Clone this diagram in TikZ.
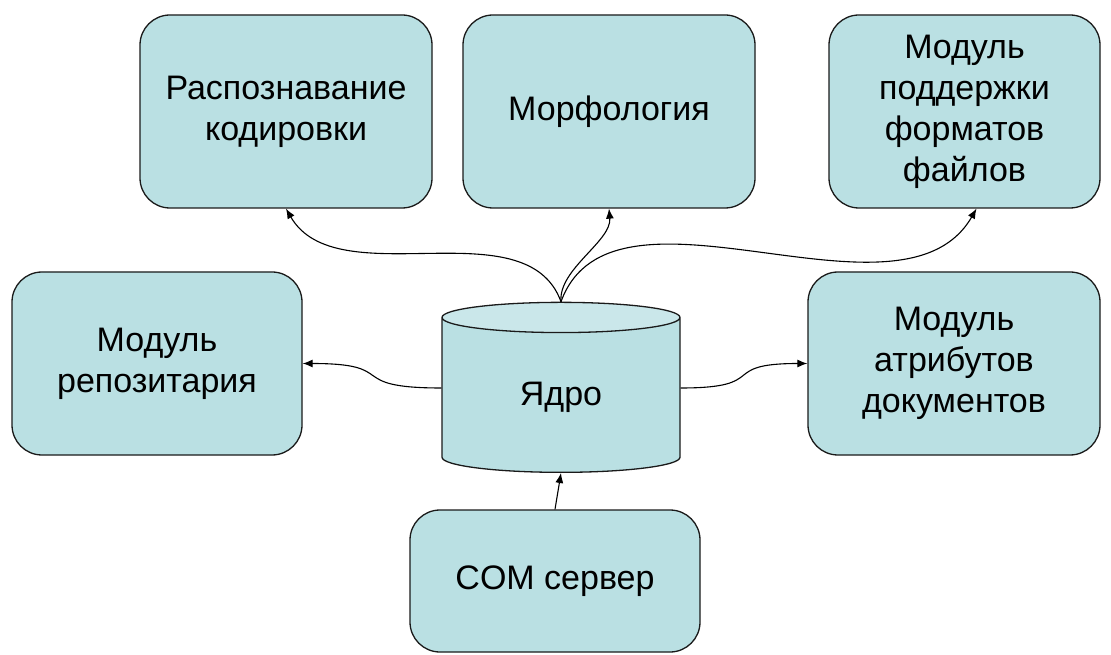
\documentclass[tikz,border=0pt]{standalone}
\usepackage{fontspec}
\setmainfont{Liberation Sans}
\usepackage{xcolor}
\usepackage{tikz}
\usetikzlibrary{shapes.geometric,arrows.meta}
\definecolor{boxfill}{HTML}{BAE0E3}
\definecolor{topfill}{HTML}{CAE7EA}
\definecolor{edgecol}{HTML}{1A1A1A}
\tikzstyle{module}=[draw=edgecol,line width=1.3pt,fill=boxfill,rounded corners=30pt,align=center,font=\fontsize{34}{41}\selectfont]
\tikzstyle{kernel}=[cylinder,shape border rotate=90,draw=edgecol,line width=1.3pt,aspect=0.34,
  cylinder uses custom fill,cylinder body fill=boxfill,cylinder end fill=topfill,
  minimum width=238pt,minimum height=170pt,font=\fontsize{34}{41}\selectfont]
\tikzset{>={Latex[length=10pt,width=8pt]}}

\begin{document}
\begin{tikzpicture}[x=1pt,y=1pt,every path/.style={line width=1.1pt}]
      \useasboundingbox (0,0) rectangle (1111,654);
      \node[module,minimum width=292pt,minimum height=193pt] (enc) at (286,542.5) {Распознавание\\кодировки};
      \node[module,minimum width=292pt,minimum height=193pt] (morph) at (609,542.5) {Морфология};
      \node[module,minimum width=271pt,minimum height=193pt] (fmt) at (964.5,542.5) {Модуль\\поддержки\\форматов\\файлов};
      \node[module,minimum width=290pt,minimum height=183pt] (repo) at (157,290.5) {Модуль\\репозитария};
      \node[module,minimum width=292pt,minimum height=183pt] (attr) at (954,290.5) {Модуль\\атрибутов\\документов};
      \node[kernel] (kern) at (561,257) {Ядро};
      \node[module,minimum width=290pt,minimum height=142pt] (com) at (555,73) {COM сервер};
      \path[->] (kern.north) edge[out=110,in=-60,looseness=0.9] (enc.south);
      \path[->] (kern.north) edge[out=95,in=-85,looseness=0.8] (morph.south);
      \path[->] (kern.north) edge[out=70,in=-120,looseness=0.9] ([xshift=12pt]fmt.south);
      \path[->] ([yshift=9pt]kern.west) edge[out=180,in=0,looseness=1.8] (repo.east);
      \path[->] ([yshift=9pt]kern.east) edge[out=0,in=180,looseness=1.8] (attr.west);
      \path[->] (com.north) edge (kern.south);
    \end{tikzpicture}
\end{document}
